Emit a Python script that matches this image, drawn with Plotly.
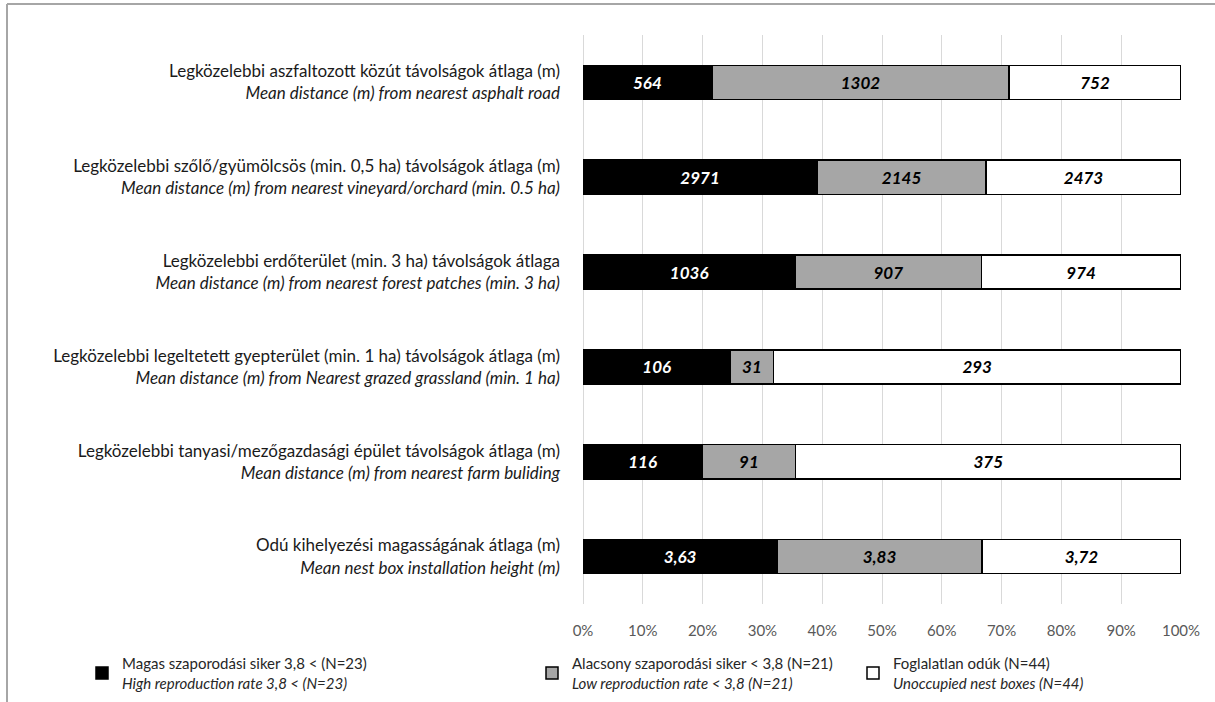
import plotly.graph_objects as go

# Row labels: Hungarian title on the first line, English translation in italics below
labels_hu = [
    "Legközelebbi aszfaltozott közút távolságok átlaga (m)",
    "Legközelebbi szőlő/gyümölcsös (min. 0,5 ha) távolságok átlaga (m)",
    "Legközelebbi erdőterület (min. 3 ha) távolságok átlaga",
    "Legközelebbi legeltetett gyepterület (min. 1 ha) távolságok átlaga (m)",
    "Legközelebbi tanyasi/mezőgazdasági épület távolságok átlaga (m)",
    "Odú kihelyezési magasságának átlaga (m)",
]
labels_en = [
    "Mean distance (m) from nearest asphalt road",
    "Mean distance (m) from nearest vineyard/orchard (min. 0.5 ha)",
    "Mean distance (m) from nearest forest patches (min. 3 ha)",
    "Mean distance (m) from Nearest grazed grassland (min. 1 ha)",
    "Mean distance (m) from nearest farm buliding",
    "Mean nest box installation height (m)",
]

# Group means per row
high_success = [564, 2971, 1036, 106, 116, 3.63]
low_success = [1302, 2145, 907, 31, 91, 3.83]
unoccupied = [752, 2473, 974, 293, 375, 3.72]

series_hu = [
    "Magas szaporodási siker 3,8 < (N=23)",
    "Alacsony szaporodási siker < 3,8 (N=21)",
    "Foglalatlan odúk (N=44)",
]
series_en = [
    "High reproduction rate 3,8 < (N=23)",
    "Low reproduction rate < 3,8 (N=21)",
    "Unoccupied nest boxes (N=44)",
]

x_ticks = [0, 10, 20, 30, 40, 50, 60, 70, 80, 90, 100]
x_ticktext = [f"{v}%" for v in x_ticks]

categories = [f"{hu}<br><i>{en}</i>" for hu, en in zip(labels_hu, labels_en)]


def fmt(v):
    return f"{v:g}".replace(".", ",")


FONT = "Lato"
fills = ["#000000", "#a6a6a6", "#ffffff"]
text_colors = ["#ffffff", "#000000", "#000000"]
legend_ids = ["legend", "legend2", "legend3"]

fig = go.Figure()
for vals, fill, tcol, hu, en, lg in zip(
    [high_success, low_success, unoccupied], fills, text_colors,
    series_hu, series_en, legend_ids,
):
    fig.add_trace(go.Bar(
        y=categories,
        x=vals,
        orientation="h",
        name=f"{hu}<br><i>{en}</i>",
        legend=lg,
        showlegend=True,
        marker=dict(color=fill, line=dict(color="#000000", width=1.5)),
        text=[fmt(v) for v in vals],
        texttemplate="%{text}",
        textposition="inside",
        insidetextanchor="middle",
        textangle=0,
        textfont=dict(family=FONT, size=17, color=tcol, weight="bold", style="italic"),
        cliponaxis=False,
    ))

# Plot area geometry in pixels
W, H = 1215, 702
L, R, T, B = 583, 34, 35, 98
pw, ph = W - L - R, H - T - B


def px_x(x):
    return (x - L) / pw


def px_y(y):
    return (H - B - y) / ph


legend_common = dict(
    orientation="h",
    xanchor="left",
    yanchor="top",
    font=dict(family=FONT, size=15, color="#262626"),
    bgcolor="rgba(0,0,0,0)",
    itemwidth=30,
    valign="middle",
    y=px_y(647),
)

fig.update_layout(
    width=W,
    height=H,
    barmode="stack",
    barnorm="percent",
    bargap=0.64,
    showlegend=True,
    plot_bgcolor="#ffffff",
    paper_bgcolor="#ffffff",
    margin=dict(l=L, r=R, t=T, b=B, autoexpand=False),
    font=dict(family=FONT),
    uniformtext=dict(minsize=17, mode="show"),
    legend=dict(legend_common, x=px_x(82)),
    legend2=dict(legend_common, x=px_x(532)),
    legend3=dict(legend_common, x=px_x(853)),
    xaxis=dict(
        range=[0, 100.001],
        tickvals=x_ticks,
        ticktext=x_ticktext,
        showgrid=True,
        gridcolor="#d9d9d9",
        gridwidth=1,
        zeroline=True,
        zerolinecolor="#d9d9d9",
        zerolinewidth=1,
        showline=False,
        ticks="",
        automargin=False,
        tickfont=dict(family=FONT, size=15, color="#595959"),
        ticklabelstandoff=16,
    ),
    yaxis=dict(
        autorange="reversed",
        showgrid=False,
        showline=False,
        ticks="",
        automargin=False,
        tickfont=dict(family=FONT, size=17, color="#1a1a1a"),
        ticklabelstandoff=22,
    ),
    shapes=[
        # frame edges (top and left)
        dict(type="line", xref="paper", yref="paper",
             x0=px_x(7), x1=px_x(1216), y0=px_y(4), y1=px_y(4),
             line=dict(color="#a6a6a6", width=2)),
        dict(type="line", xref="paper", yref="paper",
             x0=px_x(7), x1=px_x(7), y0=px_y(4), y1=px_y(703),
             line=dict(color="#a6a6a6", width=2)),
    ],
)

fig.write_html("out.html")
